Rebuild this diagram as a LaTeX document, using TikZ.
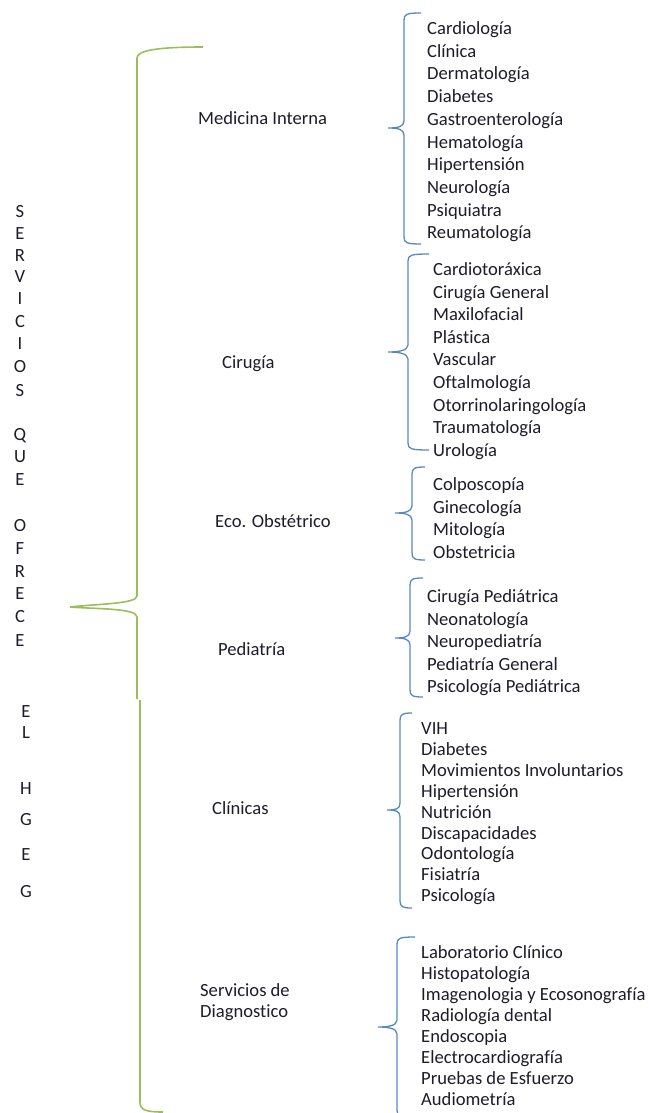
\documentclass[tikz,border=0pt]{standalone}
\usepackage{fontspec}
\setmainfont{Carlito}[Ligatures=NoCommon]
\definecolor{leafgreen}{RGB}{155,190,90}
\definecolor{bracketblue}{RGB}{88,136,196}
\definecolor{inkdark}{RGB}{30,28,40}

\begin{document}
\begin{tikzpicture}[x=1pt, y=-1pt,
  every node/.style={inner sep=0pt, text=inkdark, font=\fontsize{18.6}{21}\selectfont},
  item/.style={anchor=west, text height=17pt, text depth=2pt},
  gbrace/.style={leafgreen, line width=1.6pt},
  bbrace/.style={bracketblue, line width=1.3pt}]
  \useasboundingbox (0,0) rectangle (648,1113);
  % green brackets
  \coordinate (G1top) at (203,47);
  \coordinate (G1tip) at (70,607);
  \coordinate (G1end) at (137,699);
  \coordinate (G2top) at (140,700);
  \coordinate (G2end) at (163,1112);
  \draw[gbrace] (G1top) .. controls (160,47) and (137,50) .. (137,58) -- (137,596)
    .. controls (137,604) and (95,604) .. (G1tip)
    .. controls (95,609) and (137,608) .. (137,617) -- (G1end);
  \draw[gbrace] (G2top) -- (140,1102) .. controls (140,1110) and (146,1112) .. (G2end);
  % blue braces: spine x / top / hook / tip x / tip y / bottom
  \foreach \sx/\ya/\hk/\tx/\ty/\yb in {404/13/421/388/128/244, 408/254/429/388/352/450,
      412/467/425/395/513/560, 410/578/423/395/638/697, 400/713/412/387/810/908,
      397/937/415/378/1027/1117}
    \draw[bbrace] (\hk,\ya) .. controls (\sx+3,\ya) and (\sx,\ya+1) .. (\sx,\ya+7)
      -- (\sx,\ty-7) .. controls (\sx,\ty-1) and (\tx+9,\ty) .. (\tx,\ty)
      .. controls (\tx+9,\ty) and (\sx,\ty+1) .. (\sx,\ty+7)
      -- (\sx,\yb-7) .. controls (\sx,\yb-1) and (\sx+3,\yb) .. (\hk,\yb);
  % side letters
  \foreach \c/\y in {S/212,E/234,R/256,V/277,I/299,C/322,I/344,O/367,S/391,
      Q/436,U/457,E/480,O/526,F/549,R/572,E/594,C/617,E/641}
    \node (sq\y) at (20,\y) {\c};
  \foreach \c/\y in {E/712,L/733,H/789,G/820,E/855,G/892}
    \node (el\y) at (26,\y) {\c};
  % areas
  \node[item] (medint) at (198,117) {Medicina Interna};
  \node[item] (cirugia) at (222,361) {Cirugía};
  \node[item] (eco) at (215,520) {Eco. Obstétrico};
  \node[item] (pedia) at (218,648) {Pediatría};
  \node[item] (clinicas) at (212,807) {Clínicas};
  \node[anchor=west, align=left] (diag) at (200,1002) {Servicios de\\Diagnostico};
  % lists
  \foreach \t [count=\i] in {Cardiología, Clínica, Dermatología, Diabetes, Gastroenterología,
      Hematología, Hipertensión, Neurología, Psiquiatra, Reumatología}
    \node[item] (mi\i) at (427,{27+(\i-1)*22.7}) {\t};
  \foreach \t [count=\i] in {Cardiotoráxica, Cirugía General, Maxilofacial, Plástica, Vascular,
      Oftalmología, Otorrinolaringología, Traumatología, Urología}
    \node[item] (ci\i) at (433,{268+(\i-1)*22.6}) {\t};
  \foreach \t [count=\i] in {Colposcopía, Ginecología, Mitología, Obstetricia}
    \node[item] (ec\i) at (433,{483+(\i-1)*22.7}) {\t};
  \foreach \t [count=\i] in {Cirugía Pediátrica, Neonatología, Neuropediatría,
      Pediatría General, Psicología Pediátrica}
    \node[item] (pe\i) at (427,{595+(\i-1)*22.5}) {\t};
  \foreach \t [count=\i] in {VIH, Diabetes, Movimientos Involuntarios, Hipertensión, Nutrición,
      Discapacidades, Odontología, Fisiatría, Psicología}
    \node[item] (cl\i) at (421,{727+(\i-1)*20.9}) {\t};
  \foreach \t [count=\i] in {Laboratorio Clínico, Histopatología, Imagenologia y Ecosonografía,
      Radiología dental, Endoscopia, Electrocardiografía, Pruebas de Esfuerzo, Audiometría}
    \node[item] (dx\i) at (421,{951+(\i-1)*21}) {\t};
\end{tikzpicture}
\end{document}
